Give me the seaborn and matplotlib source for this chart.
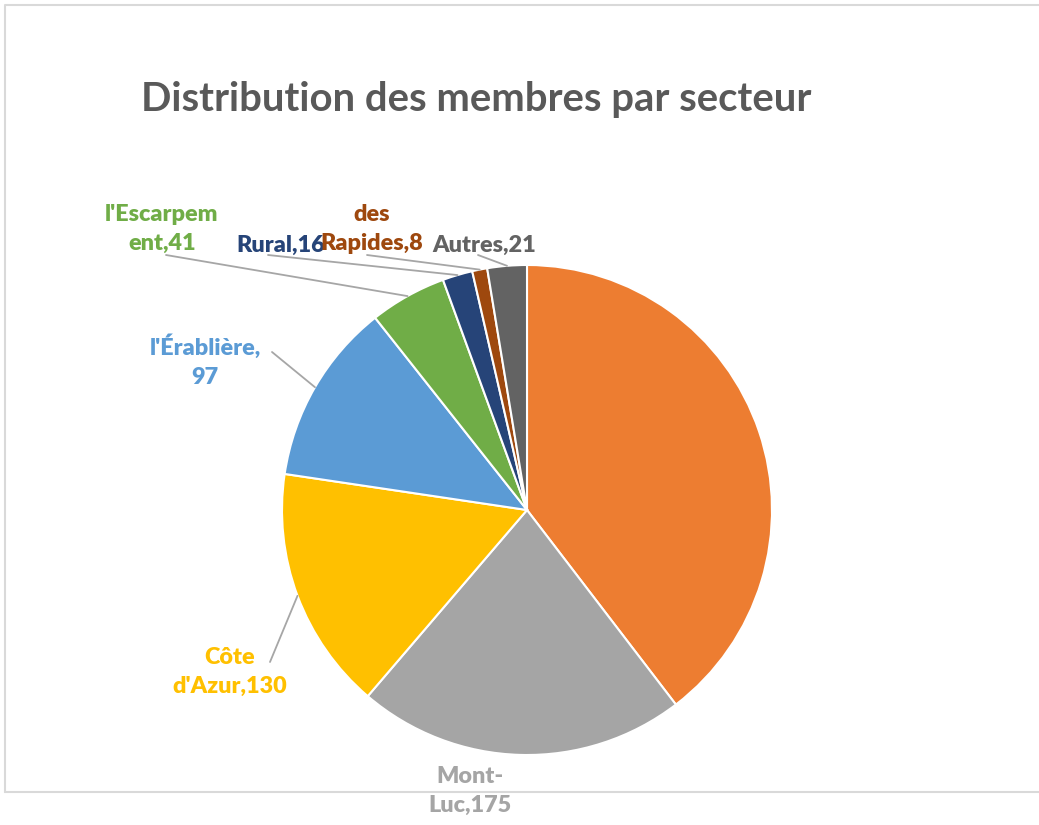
import numpy as np
import matplotlib
matplotlib.use("Agg")
import matplotlib.pyplot as plt
import seaborn as sns

# ---- data ----
sectors = ["", "Mont-Luc", "Côte d'Azur", "l'Érablière", "l'Escarpement", "Rural", "des Rapides", "Autres"]
members = [320, 175, 130, 97, 41, 16, 8, 21]
label_texts = ["", "Mont-\nLuc,175", "Côte\nd'Azur,130", "l'Érablière,\n97", "l'Escarpem\nent,41",
               "Rural,16", "des\nRapides,8", "Autres,21"]
colors = ["#ED7D31", "#A5A5A5", "#FFC000", "#5B9BD5", "#70AD47", "#264478", "#9E480E", "#636363"]

# ---- layout (pixel coordinates, y measured from top) ----
W, H = 1039, 825
cx, cy, R = 527, 510, 245
label_pos = [None, (470, 791), (230, 672), (205, 361), (162, 229), (281, 245), (372, 229), (484, 245)]
leader_start = [None, None, (270, 662), (272, 352), (166, 255), (268, 255), (367, 255), (478, 255)]

sns.set_theme(style="white")
plt.rcParams['font.family'] = ['Lato', 'DejaVu Sans']

fig = plt.figure(figsize=(W / 100, H / 100), dpi=100)
ax = fig.add_axes([0, 0, 1, 1])

wedges, _ = ax.pie(members, colors=colors, startangle=90, counterclock=False,
                   center=(cx, H - cy), radius=R, frame=True,
                   wedgeprops=dict(linewidth=1.5, edgecolor='white'))
ax.set_xlim(0, W)
ax.set_ylim(0, H)
ax.set_aspect('equal')
ax.axis('off')

# chart frame
ax.plot([5, 5, W + 5], [H - 792, H - 5, H - 5], color="#D9D9D9", lw=1.5, clip_on=False)
ax.plot([5, W + 5], [H - 792, H - 792], color="#D9D9D9", lw=1.5, clip_on=False)

ax.text(476, H - 100, "Distribution des membres par secteur", ha='center', va='center',
        fontsize=28.8, fontweight='bold', color="#595959")

total = sum(members)
cum = 0
for i, v in enumerate(members):
    mid = (cum + v / 2) / total * 2 * np.pi
    cum += v
    if not label_texts[i]:
        continue
    ex = cx + R * np.sin(mid)
    ey = cy - R * np.cos(mid)
    if leader_start[i] is not None:
        sx, sy = leader_start[i]
        ax.plot([sx, ex], [H - sy, H - ey], color="#A6A6A6", lw=1.3)
    lx, ly = label_pos[i]
    ax.text(lx, H - ly, label_texts[i], ha='center', va='center', fontsize=16.8,
            fontweight='heavy', color=colors[i], linespacing=1.45)

fig.savefig("out.png", dpi=100, facecolor='white')
